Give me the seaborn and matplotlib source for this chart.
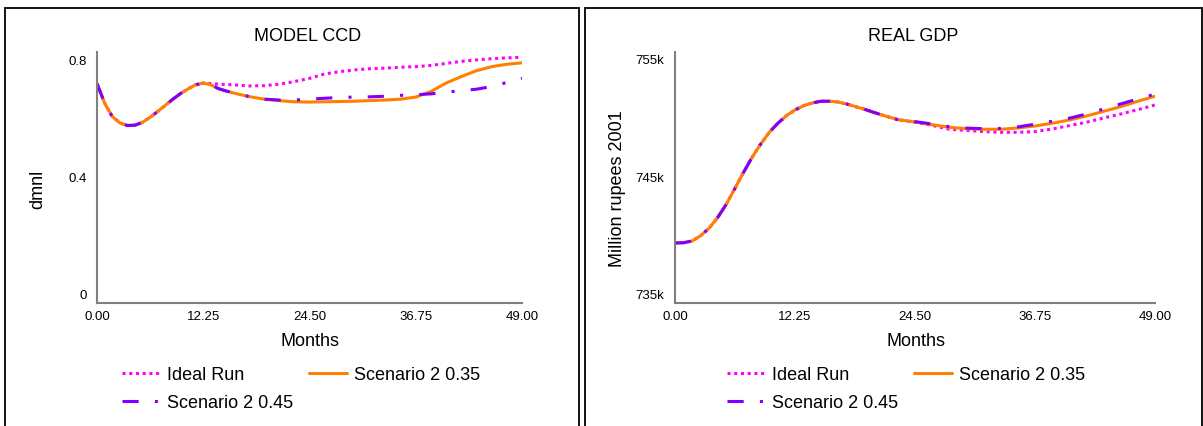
import numpy as np
import pandas as pd
import matplotlib
matplotlib.use("Agg")
import matplotlib.pyplot as plt
from matplotlib.patches import Rectangle
from matplotlib.lines import Line2D
import seaborn as sns

# ---------------- data ----------------
months = [0.0, 0.875, 1.75, 2.625, 3.5, 4.375, 5.25, 6.125, 7.0, 7.875, 8.75, 9.625,
          10.5, 11.375, 12.25, 13.125, 14.0, 14.875, 15.75, 16.625, 17.5,
          19.25, 21.0, 22.75, 24.5, 26.25, 28.0, 29.75, 31.5, 33.25, 35.0, 36.75,
          38.5, 40.25, 42.0, 43.75, 45.5, 47.25, 49.0]

ccd_ideal = [0.716, 0.650, 0.604, 0.582, 0.573, 0.574, 0.584, 0.601, 0.621, 0.642,
             0.663, 0.682, 0.698, 0.712, 0.718, 0.716, 0.714, 0.713, 0.712, 0.710,
             0.708,
             0.709, 0.714, 0.723, 0.734, 0.749, 0.757, 0.763, 0.767, 0.769, 0.772,
             0.774, 0.778, 0.785, 0.792, 0.797, 0.801, 0.804, 0.806]
ccd_s035 = [0.716, 0.650, 0.604, 0.582, 0.573, 0.574, 0.584, 0.601, 0.621, 0.642,
            0.663, 0.682, 0.698, 0.712, 0.718, 0.712, 0.699, 0.691, 0.684, 0.678,
            0.672,
            0.663, 0.658, 0.654, 0.653, 0.654, 0.655, 0.656, 0.658, 0.660, 0.663,
            0.670, 0.689, 0.718, 0.740, 0.760, 0.774, 0.782, 0.787]
ccd_s045 = [0.716, 0.650, 0.604, 0.582, 0.573, 0.574, 0.584, 0.601, 0.621, 0.642,
            0.663, 0.682, 0.698, 0.712, 0.718, 0.712, 0.699, 0.691, 0.684, 0.678,
            0.672,
            0.663, 0.660, 0.660, 0.663, 0.666, 0.669, 0.670, 0.671, 0.673, 0.676,
            0.678, 0.681, 0.687, 0.692, 0.697, 0.706, 0.720, 0.734]

# Real GDP, thousands of million rupees 2001
gdp_ideal = [739.29, 739.32, 739.46, 739.92, 740.57, 741.49, 742.62, 743.96, 745.33,
             746.61, 747.74, 748.74, 749.51, 750.16, 750.65, 751.01, 751.24, 751.39,
             751.39, 751.33, 751.16,
             750.73, 750.25, 749.82, 749.60, 749.33, 749.00, 748.90, 748.80, 748.74,
             748.74, 748.80, 749.02, 749.31, 749.60, 749.96, 750.30, 750.67, 751.07]
gdp_s035 = [739.29, 739.32, 739.46, 739.92, 740.57, 741.49, 742.62, 743.96, 745.33,
            746.61, 747.74, 748.74, 749.51, 750.16, 750.65, 751.01, 751.24, 751.39,
            751.39, 751.33, 751.16,
            750.73, 750.25, 749.82, 749.62, 749.39, 749.17, 749.05, 749.00, 749.00,
            749.11, 749.28, 749.51, 749.79, 750.13, 750.53, 750.93, 751.39, 751.82]
gdp_s045 = [739.29, 739.32, 739.46, 739.92, 740.57, 741.49, 742.62, 743.96, 745.33,
            746.61, 747.74, 748.74, 749.51, 750.16, 750.65, 751.01, 751.24, 751.39,
            751.39, 751.33, 751.16,
            750.73, 750.25, 749.82, 749.65, 749.45, 749.22, 749.10, 749.05, 749.07,
            749.20, 749.43, 749.68, 749.94, 750.30, 750.73, 751.16, 751.59, 752.00]

series_names = ["Ideal Run", "Scenario 2 0.35", "Scenario 2 0.45"]
x_ticks = [0.0, 12.25, 24.5, 36.75, 49.0]
x_tick_labels = ["0.00", "12.25", "24.50", "36.75", "49.00"]
ccd_ticks = [0.0, 0.4, 0.8]
ccd_tick_labels = ["0", "0.4", "0.8"]
gdp_ticks = [735, 745, 755]
gdp_tick_labels = ["735k", "745k", "755k"]

# ---------------- style ----------------
sns.set_theme(style="white")
plt.rcParams["font.family"] = ["Liberation Sans", "DejaVu Sans"]
plt.rcParams["text.color"] = "black"
plt.rcParams["legend.labelcolor"] = "black"

colors = {"Ideal Run": "#ff00ff", "Scenario 2 0.35": "#ff8000", "Scenario 2 0.45": "#8000ff"}
styles = {"Ideal Run": (0, (1.0, 1.2)), "Scenario 2 0.35": "-",
          "Scenario 2 0.45": (0, (5.3, 5.3, 1.0, 5.3))}
lw = 2.2

W, H = 1203, 427
fig = plt.figure(figsize=(W / 100, H / 100), dpi=100)

def fx(px):
    return px / W

def fy(py):
    return 1 - py / H

panels = [
    dict(x0=97, x1=522, title="MODEL CCD", ylabel="dmnl", ylab_x=38, leg_x=121.7,
         vals=[ccd_ideal, ccd_s035, ccd_s045], ylim=(-0.033, 0.825),
         ticks=ccd_ticks, ticklabels=ccd_tick_labels, border=(4.5, 578.5)),
    dict(x0=675, x1=1155, title="REAL GDP", ylabel="Million rupees 2001", ylab_x=618,
         leg_x=726.7,
         vals=[gdp_ideal, gdp_s035, gdp_s045], ylim=(734.17, 755.62),
         ticks=gdp_ticks, ticklabels=gdp_tick_labels, border=(584.5, 1201.5)),
]

top_px, bot_px = 52.7, 304

for p in panels:
    # border
    bx0, bx1 = p["border"]
    fig.patches.append(Rectangle((fx(bx0), fy(440)), fx(bx1 - bx0), (440 - 9) / H,
                                 transform=fig.transFigure, fill=False,
                                 edgecolor="black", linewidth=1.3, zorder=0))
    ax = fig.add_axes([fx(p["x0"]), fy(bot_px), fx(p["x1"] - p["x0"]), (bot_px - top_px) / H])
    for name, vals in zip(series_names, p["vals"]):
        df = pd.DataFrame({"Months": months, "value": vals})
        sns.lineplot(data=df, x="Months", y="value", ax=ax, color=colors[name],
                     linestyle=styles[name], linewidth=lw, label=name, legend=False)
    ax.set_xlim(0, 49)
    ax.set_ylim(*p["ylim"])
    ax.set_xticks(x_ticks)
    ax.set_xticklabels(x_tick_labels)
    ax.set_yticks(p["ticks"])
    ax.set_yticklabels(p["ticklabels"])
    ax.tick_params(axis="both", length=0, labelsize=9.5, colors="black")
    ax.tick_params(axis="y", pad=7.6)
    ax.tick_params(axis="x", pad=5)
    ax.set_xlabel("")
    ax.set_ylabel("")
    for s in ["top", "right"]:
        ax.spines[s].set_visible(False)
    for s in ["left", "bottom"]:
        ax.spines[s].set_color("#808080")
        ax.spines[s].set_linewidth(1.5)
    ax.grid(False)
    cx = (p["x0"] + p["x1"]) / 2 - 2
    fig.text(fx(cx), fy(36.7), p["title"], ha="center", va="center", fontsize=13,
             color="black")
    fig.text(fx(cx + 3), fy(341.7), "Months", ha="center", va="center", fontsize=13,
             color="black")
    fig.text(fx(p["ylab_x"]), fy(189), p["ylabel"], ha="center", va="center",
             rotation=90, fontsize=13, color="black")
    # legend (row-wise order: Ideal, 0.35 / 0.45)
    handles = {n: Line2D([], [], color=colors[n], linestyle=styles[n], linewidth=lw)
               for n in series_names}
    order = ["Ideal Run", "Scenario 2 0.45", "Scenario 2 0.35"]
    fig.legend([handles[n] for n in order], order, ncol=2, frameon=False,
               loc="upper left", bbox_to_anchor=(fx(p["leg_x"]), fy(367)),
               fontsize=13, handlelength=2.1, handletextpad=0.4, columnspacing=0.9,
               labelspacing=0.6, borderpad=0, borderaxespad=0, labelcolor="black")

fig.savefig("out.png", dpi=100)
